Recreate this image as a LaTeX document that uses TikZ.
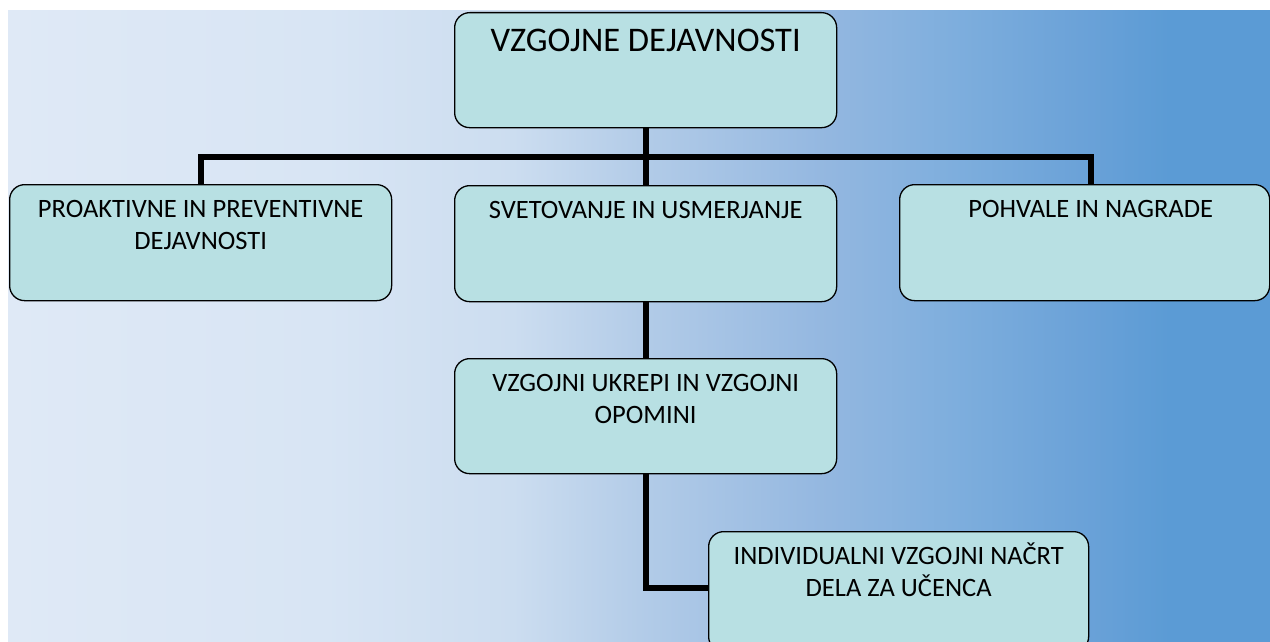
\documentclass[tikz,border=0pt]{standalone}
\usepackage{fontspec}
\setmainfont{Carlito}
\usetikzlibrary{positioning,calc}
\definecolor{boxfill}{HTML}{B8E0E3}
\definecolor{bgA}{HTML}{DFE9F6}
\definecolor{bgB}{HTML}{D8E5F4}
\definecolor{bgC}{HTML}{CCDDF0}
\definecolor{bgD}{HTML}{B3CCE8}
\definecolor{bgE}{HTML}{93B7E0}
\definecolor{bgF}{HTML}{7EAEDD}
\definecolor{bgG}{HTML}{6BA2D8}
\definecolor{bgH}{HTML}{5B9BD5}
\pgfdeclarehorizontalshading{bgshade}{100bp}{color(0bp)=(bgA); color(25bp)=(bgA); color(37.5bp)=(bgB); color(45bp)=(bgC); color(50bp)=(bgD); color(57.5bp)=(bgE); color(62.5bp)=(bgF); color(67.5bp)=(bgG); color(71bp)=(bgH); color(100bp)=(bgH)}

\begin{document}
\begin{tikzpicture}[x=1pt,y=-1pt,
    box/.style={draw,line width=1.3pt,fill=boxfill,rounded corners=15pt,
      anchor=north west,inner sep=0pt},
    label/.style={anchor=base,align=center,font=\fontsize{26.5}{32.5}\selectfont,inner sep=0pt},
    link/.style={line width=6pt}]
  \useasboundingbox (0,0) rectangle (1270,642);
  % background
  \shade[shading=bgshade] (8,11) rectangle (1270,642);
  % boxes
  \node[box,minimum width=382pt,minimum height=115pt] (top) at (454,12) {};
  \node[box,minimum width=382pt,minimum height=116pt] (left) at (9,184) {};
  \node[box,minimum width=382pt,minimum height=116pt] (mid) at (454,185) {};
  \node[box,minimum width=370pt,minimum height=116pt] (right) at (899,184) {};
  \node[box,minimum width=382pt,minimum height=115pt] (lower) at (454,358) {};
  \node[box,minimum width=380pt,minimum height=120pt] (plan) at (708,531) {};
  % connectors
  \draw[link] (top.south) -- (mid.north);
  \draw[link] (left.north) |- ($(top.south)!0.5!(mid.north)$) -| ([xshift=6pt]right.north);
  \draw[link] (mid.south) -- (lower.north);
  \draw[link] (lower.south) |- ([yshift=-57pt]plan.north west);
  % texts (base = last line)
  \node[label,font=\fontsize{34.5}{40}\selectfont] (ttop) at ([yshift=-40pt]top.north) {VZGOJNE DEJAVNOSTI};
  \node[label] (tleft) at ([yshift=-65.5pt]left.north) {PROAKTIVNE IN PREVENTIVNE\\DEJAVNOSTI};
  \node[label] (tmid) at ([yshift=-33pt]mid.north) {SVETOVANJE IN USMERJANJE};
  \node[label] (tright) at ([xshift=6pt,yshift=-33pt]right.north) {POHVALE IN NAGRADE};
  \node[label] (tlower) at ([yshift=-65.5pt]lower.north) {VZGOJNI UKREPI IN VZGOJNI\\OPOMINI};
  \node[label] (tplan) at ([yshift=-65.5pt]plan.north) {INDIVIDUALNI VZGOJNI NAČRT\\DELA ZA UČENCA};
\end{tikzpicture}
\end{document}
